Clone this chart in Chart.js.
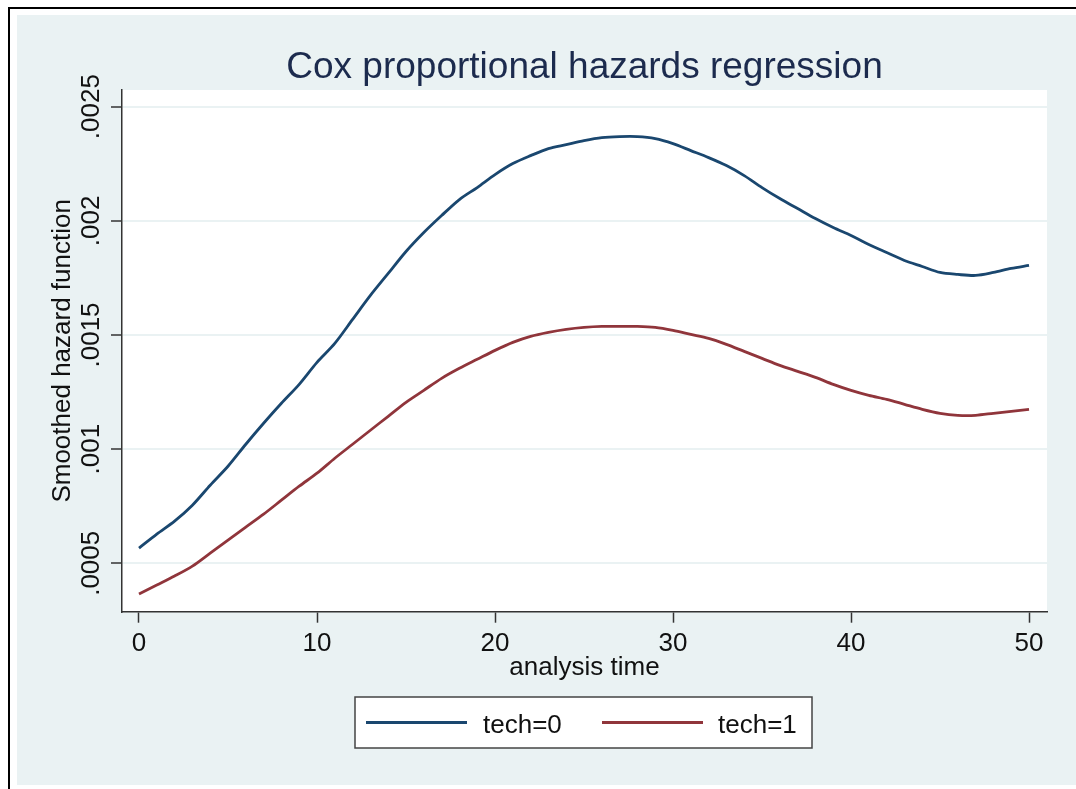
<!DOCTYPE html>
<html>
<head>
<meta charset="utf-8">
<title>Cox proportional hazards regression</title>
<script src="https://cdn.jsdelivr.net/npm/chart.js@4.4.1/dist/chart.umd.min.js"></script>
<style>
    html, body { margin: 0; padding: 0; background: #fff; overflow: hidden; }
    #frame { position: absolute; left: 8px; top: 7px; width: 1200px; height: 900px; border: 2px solid #000; }
    #chart { position: absolute; left: 17px; top: 15px; }
</style>
</head>
<body>
<div id="frame"></div>
<canvas id="chart" width="1059" height="770" style="width:1059px;height:770px"></canvas>
<script>
// Date (Stata, stcurve hazard)
const analysisTime = [0, 1, 2, 3, 4, 5, 6, 7, 8, 9, 10, 11, 12, 13, 14, 15, 16, 17, 18, 19, 20,
    21, 22, 23, 24, 25, 26, 27, 28, 29, 30, 31, 32, 33, 34, 35, 36, 37, 38, 39, 40,
    41, 42, 43, 44, 45, 46, 47, 48, 49, 50];

const hazardTech0 = [0.0005665, 0.0006277, 0.0006846, 0.0007546, 0.0008421, 0.0009252, 0.0010214,
    0.0011133, 0.0012008, 0.0012839, 0.0013801, 0.0014632, 0.0015682, 0.0016732, 0.0017695,
    0.0018657, 0.0019488, 0.0020232, 0.0020932, 0.0021457, 0.0022025, 0.0022507, 0.0022856,
    0.0023163, 0.0023338, 0.0023513, 0.0023644, 0.0023688, 0.0023688, 0.0023600, 0.0023381,
    0.0023075, 0.0022769, 0.0022419, 0.0021982, 0.0021457, 0.0020975, 0.0020538, 0.0020101,
    0.0019707, 0.0019357, 0.0018963, 0.0018613, 0.0018263, 0.0018001, 0.0017738, 0.0017651,
    0.0017607, 0.0017738, 0.0017913, 0.0018044];

const hazardTech1 = [0.0003652, 0.0004046, 0.0004440, 0.0004877, 0.0005446, 0.0006015, 0.0006583,
    0.0007152, 0.0007764, 0.0008377, 0.0008946, 0.0009602, 0.0010214, 0.0010827, 0.0011439,
    0.0012051, 0.0012576, 0.0013101, 0.0013539, 0.0013933, 0.0014326, 0.0014676, 0.0014939,
    0.0015114, 0.0015245, 0.0015332, 0.0015376, 0.0015376, 0.0015376, 0.0015332, 0.0015201,
    0.0015026, 0.0014851, 0.0014589, 0.0014282, 0.0013976, 0.0013670, 0.0013408, 0.0013145,
    0.0012839, 0.0012576, 0.0012358, 0.0012183, 0.0011964, 0.0011745, 0.0011570, 0.0011483,
    0.0011483, 0.0011570, 0.0011658, 0.0011745];

const seriesNames = ['tech=0', 'tech=1'];
const seriesColors = ['#1a476f', '#90353b'];

const xTicks = [0, 10, 20, 30, 40, 50];
const yTicks = [0.0005, 0.001, 0.0015, 0.002, 0.0025];
const yTickLabels = ['.0005', '.001', '.0015', '.002', '.0025'];

const FONT = '"Liberation Sans", Arial, Helvetica, sans-serif';
const STATA_BG = '#eaf2f3';

Chart.defaults.font.family = FONT;
Chart.defaults.font.size = 26;
Chart.defaults.color = '#111';

// Fundal Stata: zona exterioara gri-albastrui, zona de plot alba
const backgroundPlugin = {
    id: 'stataBackground',
    beforeDraw(chart) {
        const { ctx, chartArea: a } = chart;
        ctx.save();
        ctx.fillStyle = STATA_BG;
        ctx.fillRect(0, 0, chart.width, chart.height);
        ctx.fillStyle = '#fff';
        ctx.fillRect(a.left, a.top, a.right - a.left, a.bottom - a.top);
        ctx.restore();
    },
};

// Titlu, etichete Y rotite si legenda cu chenar (ca in Stata)
const stataExtras = {
    id: 'stataExtras',
    afterDraw(chart) {
        const { ctx, chartArea: a } = chart;
        const yScale = chart.scales.y;
        ctx.save();

        // titlu
        ctx.font = '37px ' + FONT;
        ctx.fillStyle = '#1c2b4e';
        ctx.textAlign = 'center';
        ctx.textBaseline = 'alphabetic';
        ctx.fillText('Cox proportional hazards regression', (a.left + a.right) / 2, 63);

        // etichete axa Y, citite de jos in sus
        ctx.font = '26px ' + FONT;
        ctx.fillStyle = '#111';
        yTicks.forEach((v, i) => {
            const py = yScale.getPixelForValue(v);
            ctx.save();
            ctx.translate(82, py);
            ctx.rotate(-Math.PI / 2);
            ctx.fillText(yTickLabels[i], 0, 0);
            ctx.restore();
        });

        // legenda
        const box = { x: 338, y: 682, w: 457, h: 51 };
        ctx.fillStyle = '#fff';
        ctx.fillRect(box.x, box.y, box.w, box.h);
        ctx.strokeStyle = '#444';
        ctx.lineWidth = 1.5;
        ctx.strokeRect(box.x, box.y, box.w, box.h);

        const items = [
            { x0: 349, x1: 450, tx: 466 },
            { x0: 585, x1: 686, tx: 701 },
        ];
        ctx.textAlign = 'left';
        items.forEach((it, i) => {
            ctx.strokeStyle = seriesColors[i];
            ctx.lineWidth = 2.8;
            ctx.beginPath();
            ctx.moveTo(it.x0, 707.5);
            ctx.lineTo(it.x1, 707.5);
            ctx.stroke();
            ctx.fillStyle = '#111';
            ctx.fillText(seriesNames[i], it.tx, 718);
        });

        ctx.restore();
    },
};

const toPoints = (ys) => ys.map((v, i) => ({ x: analysisTime[i], y: v }));

new Chart(document.getElementById('chart'), {
    type: 'line',
    data: {
        datasets: [
            { label: seriesNames[0], data: toPoints(hazardTech0), borderColor: seriesColors[0] },
            { label: seriesNames[1], data: toPoints(hazardTech1), borderColor: seriesColors[1] },
        ],
    },
    options: {
        responsive: false,
        animation: false,
        events: [],
        layout: { padding: { top: 75, left: 0, right: 29, bottom: 101.3 } },
        elements: {
            line: { borderWidth: 2.8, tension: 0.3, fill: false },
            point: { radius: 0 },
        },
        plugins: {
            legend: { display: false },
            title: { display: false },
            tooltip: { enabled: false },
        },
        scales: {
            x: {
                type: 'linear',
                min: -0.955,
                max: 51.01,
                afterBuildTicks: (s) => { s.ticks = xTicks.map((v) => ({ value: v })); },
                afterFit: (s) => { s.height = 72; },
                grid: { drawOnChartArea: false, tickLength: 11, tickColor: '#333', tickWidth: 1.5 },
                border: { color: '#333', width: 1.5 },
                ticks: { padding: 6, maxRotation: 0, color: '#111' },
                title: { display: true, text: 'analysis time', color: '#111', padding: { top: 0, bottom: 0 } },
            },
            y: {
                type: 'linear',
                min: 0.000288,
                max: 0.002573,
                afterBuildTicks: (s) => { s.ticks = yTicks.map((v) => ({ value: v })); },
                afterFit: (s) => { s.width = 105; },
                grid: { color: STATA_BG, lineWidth: 2, tickLength: 11, tickColor: '#333', tickWidth: 1.5 },
                border: { color: '#333', width: 1.5 },
                ticks: { display: false },
                title: { display: true, text: 'Smoothed hazard function', color: '#111', padding: { top: 30, bottom: 0 } },
            },
        },
    },
    plugins: [backgroundPlugin, stataExtras],
});
</script>
</body>
</html>
